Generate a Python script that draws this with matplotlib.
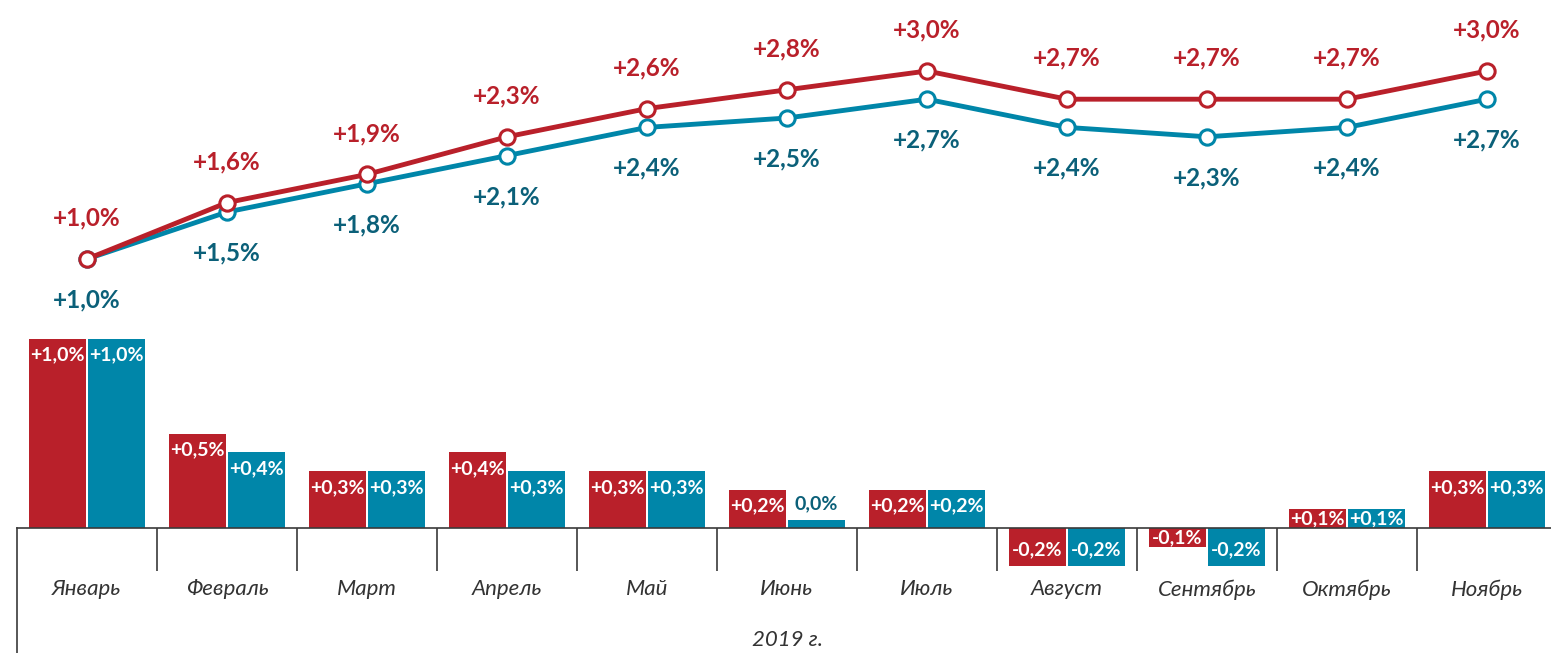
import numpy as np
import matplotlib
matplotlib.use("Agg")
import matplotlib.pyplot as plt

plt.rcParams['font.family'] = ['Lato', 'Open Sans', 'DejaVu Sans']

# data
months = ['Январь', 'Февраль', 'Март', 'Апрель', 'Май', 'Июнь', 'Июль',
          'Август', 'Сентябрь', 'Октябрь', 'Ноябрь']
red_month = [1.0, 0.5, 0.3, 0.4, 0.3, 0.2, 0.2, -0.2, -0.1, 0.1, 0.3]
blue_month = [1.0, 0.4, 0.3, 0.3, 0.3, 0.04, 0.2, -0.2, -0.2, 0.1, 0.3]
blue_month_labels = ['+1,0%', '+0,4%', '+0,3%', '+0,3%', '+0,3%', '0,0%', '+0,2%',
                     '-0,2%', '-0,2%', '+0,1%', '+0,3%']
red_cum = [1.0, 1.6, 1.9, 2.3, 2.6, 2.8, 3.0, 2.7, 2.7, 2.7, 3.0]
blue_cum = [1.0, 1.5, 1.8, 2.1, 2.4, 2.5, 2.7, 2.4, 2.3, 2.4, 2.7]
year_label = '2019 г.'

RED = '#B9202A'
BLUE = '#0086A9'
BLUE_TXT = '#0B6079'
AXC = '#3a3a3a'


def fmt(v):
    s = '{:+.1f}%'.format(v).replace('.', ',')
    return s


W, H = 1551, 653
fig = plt.figure(figsize=(W / 100, H / 100), dpi=100)

x = np.arange(len(months))

# bars (bottom part)
ax = fig.add_axes([17 / W, 0, 1540 / W, 323 / H])
ax.set_xlim(-0.5, len(months) - 0.5)
ax.set_ylim(-125 / 189, 198 / 189)
bw = 0.405
ax.bar(x - 0.21, red_month, bw, color=RED, zorder=2)
ax.bar(x + 0.21, blue_month, bw, color=BLUE, zorder=2)

inset = 16 / 189
for i in range(len(months)):
    for off, v, lab in [(-0.21, red_month[i], fmt(red_month[i])),
                        (0.21, blue_month[i], blue_month_labels[i])]:
        if abs(v) < 0.06:
            ax.text(x[i] + off, v + 0.09, lab, ha='center', va='center',
                    color=BLUE_TXT, fontsize=14, fontweight='bold')
            continue
        d = min(inset, abs(v) / 2)
        ty = v - d if v > 0 else v + d
        ax.text(x[i] + off, ty, lab, ha='center', va='center',
                color='white', fontsize=14, fontweight='bold', zorder=3)

for s in ['top', 'right']:
    ax.spines[s].set_visible(False)
ax.spines['bottom'].set_position(('data', 0))
ax.spines['bottom'].set_color(AXC)
ax.spines['bottom'].set_linewidth(1.2)
ax.spines['bottom'].set_zorder(4)
ax.spines['left'].set_color(AXC)
ax.spines['left'].set_linewidth(1.2)
ax.spines['left'].set_bounds(ax.get_ylim()[0], 0)
ax.set_yticks([])
ax.set_xticks(x)
ax.set_xticklabels(months, fontsize=16, style='italic', color='#333333')
ax.tick_params(axis='x', length=0, pad=37)
ax.vlines(x[:-1] + 0.5, -43 / 189, 0, color=AXC, linewidth=1.2)
ax.text(0.5, 0.04, year_label, transform=ax.transAxes, ha='center', va='center',
        fontsize=16, style='italic', color='#333333')

# lines (top part)
ax2 = fig.add_axes([17 / W, 323 / H, 1540 / W, 330 / H])
ax2.set_xlim(-0.5, len(months) - 0.5)
ax2.set_ylim(1.0 - 71 / 94, 1.0 + 259 / 94)
ax2.axis('off')
ax2.plot(x, blue_cum, color=BLUE, linewidth=3.5, marker='o', markersize=11,
         markerfacecolor='white', markeredgewidth=2.2, markeredgecolor=BLUE, zorder=2)
ax2.plot(x, red_cum, color=RED, linewidth=3.5, marker='o', markersize=11,
         markerfacecolor='white', markeredgewidth=2.2, markeredgecolor=RED, zorder=3)
for i in range(len(months)):
    ax2.annotate(fmt(red_cum[i]), (x[i], red_cum[i]), xytext=(0, 29.5),
                 textcoords='offset points', ha='center', va='center',
                 color=RED, fontsize=17.5, fontweight='bold')
    ax2.annotate(fmt(blue_cum[i]), (x[i], blue_cum[i]), xytext=(0, -29.5),
                 textcoords='offset points', ha='center', va='center',
                 color=BLUE_TXT, fontsize=17.5, fontweight='bold')

fig.savefig('out.png', dpi=100)
